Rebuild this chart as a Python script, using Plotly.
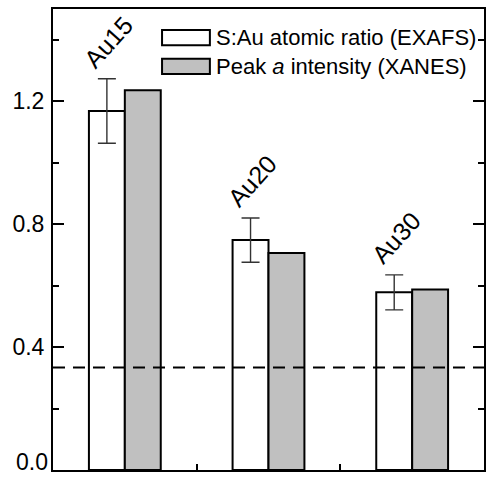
import plotly.graph_objects as go

categories = ["Au15", "Au20", "Au30"]
exafs_ratio = [1.168, 0.748, 0.578]
exafs_err = [0.105, 0.072, 0.057]
xanes_peak = [1.236, 0.706, 0.587]
ref_line = 1 / 3
y_ticks = [0.0, 0.4, 0.8, 1.2]
y_tick_labels = ["", "0.4", "0.8", "1.2"]
zero_label = "0.0"

FONT = "Arial, Liberation Sans, sans-serif"
idx = list(range(len(categories)))

fig = go.Figure()
fig.add_trace(go.Bar(
    x=idx, y=exafs_ratio, name="S:Au atomic ratio (EXAFS)",
    marker=dict(color="white", line=dict(color="black", width=2)),
    error_y=dict(type="data", array=exafs_err, color="#333333", thickness=1.4, width=9),
    offsetgroup=0, showlegend=False,
))
fig.add_trace(go.Bar(
    x=idx, y=xanes_peak, name="Peak a intensity (XANES)",
    marker=dict(color="#c0c0c0", line=dict(color="black", width=2)),
    offsetgroup=1, showlegend=False,
))

# category labels above white bars
for i, (c, v, e) in enumerate(zip(categories, exafs_ratio, exafs_err)):
    fig.add_annotation(x=i - 0.115, y=v + e + 0.12, text=c, showarrow=False,
                       textangle=-48, font=dict(family=FONT, size=25, color="black"),
                       xanchor="center", yanchor="middle")

# bottom tick label (lifted so it stays inside the picture)
fig.add_annotation(xref="paper", yref="paper", x=0, y=0, text=zero_label, showarrow=False,
                   xanchor="right", yanchor="bottom", xshift=-3, yshift=-7,
                   font=dict(family=FONT, size=23, color="black"))

# reference dashed line
fig.add_shape(type="line", xref="paper", x0=0, x1=1, yref="y", y0=ref_line, y1=ref_line,
              line=dict(color="black", width=2, dash="12px,8px"))

# custom legend
legend_items = [("S:Au atomic ratio (EXAFS)", "white"),
                ("Peak <i>a</i> intensity (XANES)", "#c0c0c0")]
for k, (label, col) in enumerate(legend_items):
    yc = 0.938 - k * 0.0625
    fig.add_shape(type="rect", xref="paper", yref="paper",
                  x0=0.253, x1=0.364, y0=yc - 0.0165, y1=yc + 0.0165,
                  fillcolor=col, line=dict(color="black", width=2))
    fig.add_annotation(xref="paper", yref="paper", x=0.374, y=yc, text=label,
                       showarrow=False, xanchor="left", yanchor="middle",
                       font=dict(family=FONT, size=22, color="black"))

fig.update_layout(
    width=486, height=478,
    margin=dict(l=53, r=2, t=9, b=8),
    paper_bgcolor="white", plot_bgcolor="white",
    barmode="group", bargap=0.5, bargroupgap=0,
    font=dict(family=FONT, size=22, color="black"),
)
fig.update_xaxes(
    range=[-0.5, 2.5], showgrid=False, zeroline=False, automargin=False,
    showline=True, linecolor="black", linewidth=2, mirror=True,
    tickvals=[0.5, 1.5], ticks="inside", ticklen=6, tickwidth=1.5, tickcolor="black",
    showticklabels=False,
)
fig.update_yaxes(
    range=[0, 1.5], showgrid=False, zeroline=False, automargin=False,
    showline=True, linecolor="black", linewidth=2, mirror="ticks",
    tickvals=y_ticks, ticktext=y_tick_labels,
    ticks="inside", ticklen=11, tickwidth=1.5, tickcolor="black",
    ticklabelstandoff=2,
    tickfont=dict(family=FONT, size=23, color="black"),
    minor=dict(tickvals=[0.2, 0.6, 1.0, 1.4], ticks="inside", ticklen=6,
               tickwidth=1.5, tickcolor="black", showgrid=False),
)

fig.write_html("out.html")
